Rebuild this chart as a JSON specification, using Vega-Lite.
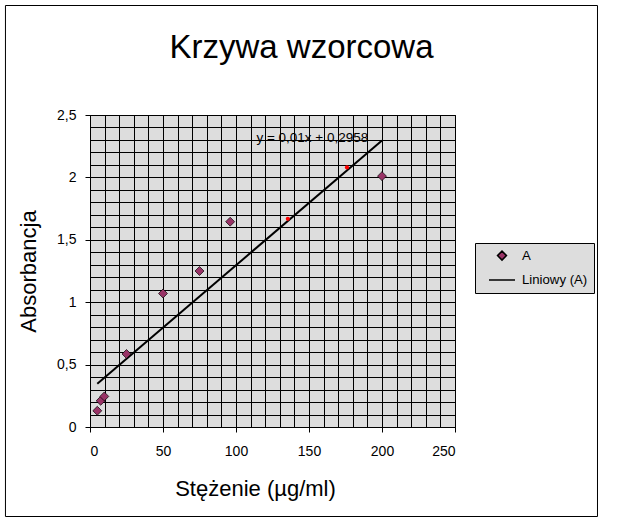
{
  "$schema": "https://vega.github.io/schema/vega-lite/v6.json",
  "width": 365,
  "height": 312,
  "autosize": "none",
  "padding": {"left": 90, "top": 115, "right": 185, "bottom": 96},
  "background": "white",
  "title": {
    "text": "Krzywa wzorcowa",
    "font": "Liberation Sans",
    "fontSize": 33,
    "fontWeight": "normal",
    "color": "black",
    "anchor": "middle",
    "frame": "group",
    "baseline": "alphabetic",
    "dx": 29,
    "offset": -86
  },
  "config": {
    "view": {"fill": "#dddddd", "stroke": "black", "strokeWidth": 1},
    "axis": {
      "labelFont": "Liberation Sans",
      "titleFont": "Liberation Sans",
      "labelColor": "black",
      "titleColor": "black",
      "labelFontSize": 14,
      "titleFontSize": 22,
      "titleFontWeight": "normal",
      "domainColor": "black",
      "gridColor": "black",
      "gridOpacity": 1,
      "gridWidth": 1,
      "tickSize": 5
    }
  },
  "encoding": {
    "x": {
      "field": "x", "type": "quantitative",
      "scale": {"domain": [0, 250], "nice": false, "zero": false},
      "axis": {
        "title": "Stężenie (µg/ml)",
        "values": [0,10,20,30,40,50,60,70,80,90,100,110,120,130,140,150,160,170,180,190,200,210,220,230,240,250],
        "labelExpr": "datum.value % 50 === 0 ? datum.label : ''",
        "tickColor": {"condition": {"test": "datum.value % 50 === 0", "value": "black"}, "value": "transparent"},
        "labelPadding": 12,
        "titleX": 165,
        "titleY": 61,
        "titleAlign": "center",
        "titleBaseline": "middle",
        "grid": true
      }
    },
    "y": {
      "field": "y", "type": "quantitative",
      "scale": {"domain": [0, 2.5], "nice": false, "zero": false},
      "axis": {
        "title": "Absorbancja",
        "values": [0,0.1,0.2,0.3,0.4,0.5,0.6,0.7,0.8,0.9,1,1.1,1.2,1.3,1.4,1.5,1.6,1.7,1.8,1.9,2,2.1,2.2,2.3,2.4,2.5],
        "labelExpr": "round(datum.value*10) % 5 === 0 ? replace(format(datum.value, '~g'), '.', ',') : ''",
        "tickColor": {"condition": {"test": "round(datum.value*10) % 5 === 0", "value": "black"}, "value": "transparent"},
        "labelPadding": 9,
        "titleAngle": -90,
        "titleX": -62,
        "titleY": 156,
        "titleAlign": "center",
        "titleBaseline": "middle",
        "grid": true
      }
    }
  },
  "layer": [
    {
      "data": {"values": [
        {"x": 5, "y": 0.3458},
        {"x": 200, "y": 2.2958}
      ]},
      "mark": {"type": "line", "color": "black", "strokeWidth": 2}
    },
    {
      "data": {"values": [
        {"x": 5.0, "y": 0.13, "series": "A"},
        {"x": 7.3, "y": 0.21, "series": "A"},
        {"x": 9.8, "y": 0.245, "series": "A"},
        {"x": 25, "y": 0.585, "series": "A"},
        {"x": 50, "y": 1.07, "series": "A"},
        {"x": 75, "y": 1.25, "series": "A"},
        {"x": 96, "y": 1.645, "series": "A"},
        {"x": 200, "y": 2.01, "series": "A"}
      ]},
      "mark": {"type": "point", "filled": true, "stroke": "black", "strokeWidth": 0.7, "opacity": 1},
      "encoding": {
        "fill": {
          "field": "series", "type": "nominal",
          "scale": {"domain": ["A", "Liniowy (A)"], "range": ["#993366", "#000000"]},
          "legend": {
            "title": null,
            "orient": "none",
            "legendX": 385,
            "legendY": 128,
            "fillColor": "#dddddd",
            "strokeColor": "black",
            "padding": 6,
            "rowPadding": 2,
            "symbolOffset": 7,
            "labelFont": "Liberation Sans",
            "labelFontSize": 13.2,
            "labelColor": "black",
            "labelOffset": 6,
            "encode": {
              "symbols": {
                "update": {
                  "stroke": {"value": "black"},
                  "strokeWidth": {"signal": "datum.value === 'A' ? 0.7 : 2"}
                }
              }
            }
          }
        },
        "shape": {
          "field": "series", "type": "nominal",
          "scale": {"domain": ["A", "Liniowy (A)"], "range": ["diamond", "stroke"]}
        },
        "size": {
          "field": "series", "type": "nominal",
          "scale": {"domain": ["A", "Liniowy (A)"], "range": [80, 676]}
        }
      }
    },
    {
      "data": {"values": [
        {"x": 135.5, "y": 1.668},
        {"x": 176, "y": 2.08}
      ]},
      "mark": {"type": "point", "filled": true, "color": "#ff0000", "size": 18, "opacity": 1}
    },
    {
      "data": {"values": [{"x": 114, "y": 2.316, "label": "y = 0,01x + 0,2958"}]},
      "mark": {"type": "text", "align": "left", "baseline": "middle", "font": "Liberation Sans", "fontSize": 13.5, "color": "black"},
      "encoding": {
        "text": {"field": "label"}
      }
    },
    {
      "data": {"values": [{"x": -57.9, "x2": 347.6, "y": 3.3774, "y2": -0.7172}]},
      "mark": {"type": "rect", "fill": null, "fillOpacity": 0, "stroke": "black", "strokeWidth": 1, "clip": false},
      "encoding": {
        "x2": {"field": "x2"},
        "y2": {"field": "y2"}
      }
    }
  ]
}
